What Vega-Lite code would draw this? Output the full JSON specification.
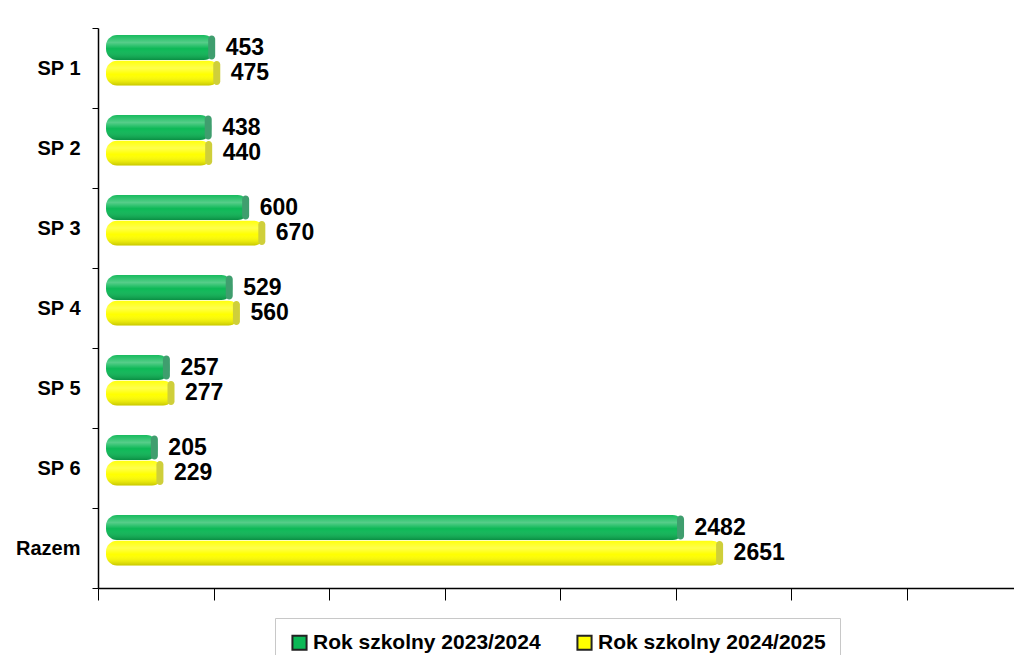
{
  "$schema": "https://vega.github.io/schema/vega-lite/v6.json",
  "width": 916,
  "height": 560,
  "autosize": "none",
  "padding": {"left": 98, "top": 28, "right": 0, "bottom": 67},
  "background": "white",
  "config": {
    "view": {"stroke": null},
    "font": "Liberation Sans"
  },
  "data": {
    "values": [
      {"szkola": "SP 1", "rok": "Rok szkolny 2023/2024", "liczba": 453},
      {"szkola": "SP 1", "rok": "Rok szkolny 2024/2025", "liczba": 475},
      {"szkola": "SP 2", "rok": "Rok szkolny 2023/2024", "liczba": 438},
      {"szkola": "SP 2", "rok": "Rok szkolny 2024/2025", "liczba": 440},
      {"szkola": "SP 3", "rok": "Rok szkolny 2023/2024", "liczba": 600},
      {"szkola": "SP 3", "rok": "Rok szkolny 2024/2025", "liczba": 670},
      {"szkola": "SP 4", "rok": "Rok szkolny 2023/2024", "liczba": 529},
      {"szkola": "SP 4", "rok": "Rok szkolny 2024/2025", "liczba": 560},
      {"szkola": "SP 5", "rok": "Rok szkolny 2023/2024", "liczba": 257},
      {"szkola": "SP 5", "rok": "Rok szkolny 2024/2025", "liczba": 277},
      {"szkola": "SP 6", "rok": "Rok szkolny 2023/2024", "liczba": 205},
      {"szkola": "SP 6", "rok": "Rok szkolny 2024/2025", "liczba": 229},
      {"szkola": "Razem", "rok": "Rok szkolny 2023/2024", "liczba": 2482},
      {"szkola": "Razem", "rok": "Rok szkolny 2024/2025", "liczba": 2651}
    ]
  },
  "encoding": {
    "y": {
      "field": "szkola",
      "type": "nominal",
      "sort": ["SP 1", "SP 2", "SP 3", "SP 4", "SP 5", "SP 6", "Razem"],
      "scale": {"paddingInner": 0, "paddingOuter": 0},
      "axis": {
        "title": null,
        "domainColor": "#000000",
        "domainWidth": 1.5,
        "tickColor": "#000000",
        "tickBand": "extent",
        "tickSize": 6,
        "labelFont": "Liberation Sans",
        "labelFontSize": 20,
        "labelFontWeight": "bold",
        "labelColor": "#000000",
        "labelPadding": 12
      }
    },
    "yOffset": {
      "field": "rok",
      "type": "nominal",
      "scale": {"paddingInner": 0.03, "paddingOuter": 0.58, "align": 0.24}
    },
    "x": {
      "field": "liczba",
      "type": "quantitative",
      "scale": {"domain": [0, 3964], "nice": false},
      "axis": {
        "title": null,
        "labels": false,
        "grid": false,
        "values": [0, 500, 1000, 1500, 2000, 2500, 3000, 3500],
        "domainColor": "#000000",
        "domainWidth": 1.5,
        "tickColor": "#000000",
        "tickSize": 12
      }
    }
  },
  "layer": [
    {
      "mark": {
        "type": "bar",
        "xOffset": 12,
        "x2Offset": 8,
        "cornerRadius": 11
      },
      "encoding": {
        "x2": {"datum": 0},
        "color": {
          "field": "rok",
          "type": "nominal",
          "scale": {
            "domain": ["Rok szkolny 2023/2024", "Rok szkolny 2024/2025"],
            "range": ["#0cb856", "#ffff00"]
          },
          "legend": {
            "title": null,
            "orient": "none",
            "direction": "horizontal",
            "legendX": 177,
            "legendY": 590,
            "padding": 14,
            "fillColor": "white",
            "strokeColor": "#c8c8c8",
            "symbolType": "square",
            "symbolSize": 200,
            "symbolStrokeColor": "#222222",
            "symbolStrokeWidth": 2,
            "labelFont": "Liberation Sans",
            "labelFontSize": 21,
            "labelFontWeight": "bold",
            "labelColor": "#000000",
            "labelOffset": 3,
            "columnPadding": 32,
            "labelLimit": 400
          }
        }
      }
    },
    {
      "mark": {
        "type": "bar",
        "xOffset": 12,
        "x2Offset": 8,
        "cornerRadius": 11,
        "fill": {
          "gradient": "linear",
          "x1": 0, "y1": 0, "x2": 0, "y2": 1,
          "stops": [
            {"offset": 0, "color": "rgba(255,255,255,0.05)"},
            {"offset": 0.3, "color": "rgba(255,255,255,0.3)"},
            {"offset": 0.55, "color": "rgba(255,255,255,0)"},
            {"offset": 1, "color": "rgba(0,0,0,0.22)"}
          ]
        }
      },
      "encoding": {
        "x2": {"datum": 0}
      }
    },
    {
      "mark": {
        "type": "tick",
        "orient": "vertical",
        "xOffset": 9,
        "thickness": 7,
        "size": 24,
        "cornerRadius": 3.5,
        "opacity": 1
      },
      "encoding": {
        "color": {
          "field": "rok",
          "type": "nominal",
          "scale": {
            "domain": ["Rok szkolny 2023/2024", "Rok szkolny 2024/2025"],
            "range": ["#3f9e6e", "#cfcf3a"]
          },
          "legend": null
        }
      }
    },
    {
      "mark": {
        "type": "text",
        "align": "left",
        "baseline": "middle",
        "xOffset": 12,
        "dx": 11,
        "font": "Liberation Sans",
        "fontSize": 23,
        "fontWeight": "bold",
        "color": "#000000"
      },
      "encoding": {
        "text": {"field": "liczba", "type": "quantitative"}
      }
    }
  ],
  "resolve": {"scale": {"color": "independent"}}
}
